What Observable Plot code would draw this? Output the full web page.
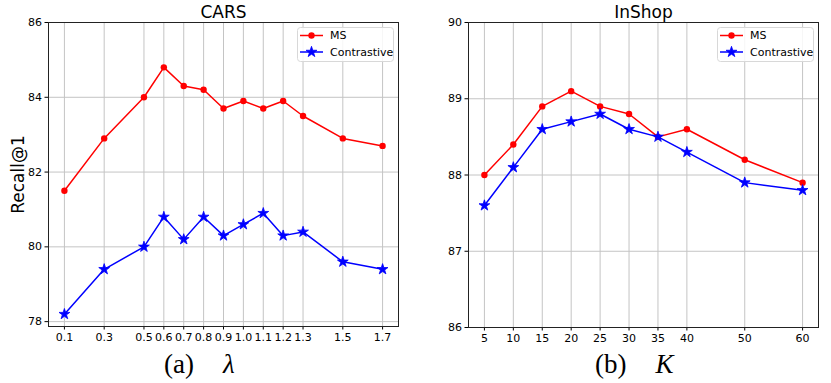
<!DOCTYPE html>
<html>
<head>
<meta charset="utf-8">
<script src="https://cdn.jsdelivr.net/npm/d3@7"></script>
<script src="https://cdn.jsdelivr.net/npm/@observablehq/plot@0.6"></script>
<style>
  html, body { margin: 0; padding: 0; background: #fff; }
  #fig { position: relative; width: 831px; height: 383px; overflow: hidden; font-family: "DejaVu Sans", sans-serif; }
  .panel { position: absolute; top: 0; }
  .legend { position: absolute; top: 27px; width: 97px; height: 35px; }
  .cap { position: absolute; top: 351px; font-family: "Liberation Serif", "Times New Roman", serif; font-size: 27px; line-height: 1; white-space: nowrap; color: #000; }
  .cap i { margin-left: 29px; }
</style>
</head>
<body>
<div id="fig"></div>
<script>
// ---- data ----
const lambdas = [0.1, 0.3, 0.5, 0.6, 0.7, 0.8, 0.9, 1.0, 1.1, 1.2, 1.3, 1.5, 1.7];
const carsMS = [81.5, 82.9, 84.0, 84.8, 84.3, 84.2, 83.7, 83.9, 83.7, 83.9, 83.5, 82.9, 82.7];
const carsContrastive = [78.2, 79.4, 80.0, 80.8, 80.2, 80.8, 80.3, 80.6, 80.9, 80.3, 80.4, 79.6, 79.4];
const carsYTicks = [78, 80, 82, 84, 86];

const ks = [5, 10, 15, 20, 25, 30, 35, 40, 50, 60];
const shopMS = [88.0, 88.4, 88.9, 89.1, 88.9, 88.8, 88.5, 88.6, 88.2, 87.9];
const shopContrastive = [87.6, 88.1, 88.6, 88.7, 88.8, 88.6, 88.5, 88.3, 87.9, 87.8];
const shopYTicks = [86, 87, 88, 89, 90];

const seriesNames = ["MS", "Contrastive"];
const seriesColors = ["#ff0000", "#0000ff"];

const FONT = "DejaVu Sans";

function makeLegend(left) {
  const svg = d3.create("svg").attr("class", "legend").attr("width", 97).attr("height", 35)
    .style("left", left + "px");
  svg.append("rect").attr("x", 0.5).attr("y", 0.5).attr("width", 96).attr("height", 34)
    .attr("rx", 3).attr("fill", "#fff").attr("fill-opacity", 0.85)
    .attr("stroke", "#d8d8d8").attr("stroke-width", 1);
  seriesNames.forEach((name, i) => {
    const cy = 8.5 + i * 16.5;
    svg.append("line").attr("x1", 3).attr("x2", 26).attr("y1", cy).attr("y2", cy)
      .attr("stroke", seriesColors[i]).attr("stroke-width", 1.5);
    if (i === 0) {
      svg.append("circle").attr("cx", 14.5).attr("cy", cy).attr("r", 3.2).attr("fill", seriesColors[i]);
    } else {
      svg.append("path").attr("transform", `translate(14.5,${cy})`)
        .attr("d", d3.symbol(d3.symbolStar, Math.PI * 3.4 * 3.4)()).attr("fill", seriesColors[i])
        .attr("stroke", seriesColors[i]).attr("stroke-width", 0.8);
    }
    svg.append("text").attr("x", 33).attr("y", cy).attr("dy", "0.35em")
      .attr("font-family", FONT).attr("font-size", 11).attr("fill", "#000").text(name);
  });
  return svg.node();
}

function panel({xs, ms, con, xTicks, xFmt, xDomain, yDomain, yTicks, title, width, marginLeft, marginRight, marginBottom, ylabel}) {
  const msRows = xs.map((x, i) => ({x, y: ms[i]}));
  const conRows = xs.map((x, i) => ({x, y: con[i]}));
  const marks = [
    Plot.gridX(xTicks, {stroke: "#c4c4c4", strokeOpacity: 1, strokeWidth: 1}),
    Plot.gridY(yTicks, {stroke: "#c4c4c4", strokeOpacity: 1, strokeWidth: 1}),
    Plot.axisX({ticks: xTicks, tickFormat: xFmt, tickSize: 3.5, tickPadding: 3, fontSize: 11, label: null}),
    Plot.axisY({ticks: yTicks, tickFormat: d3.format("d"), tickSize: 3.5, tickPadding: 3, fontSize: 11, label: null}),
    Plot.lineY(msRows, {x: "x", y: "y", stroke: seriesColors[0], strokeWidth: 1.5}),
    Plot.dot(msRows, {x: "x", y: "y", r: 3.2, fill: seriesColors[0]}),
    Plot.lineY(conRows, {x: "x", y: "y", stroke: seriesColors[1], strokeWidth: 1.5}),
    Plot.dot(conRows, {x: "x", y: "y", symbol: "star", r: 3.4, fill: seriesColors[1], stroke: seriesColors[1], strokeWidth: 0.8}),
    Plot.frame({stroke: "#222", strokeWidth: 1}),
    Plot.text([title], {frameAnchor: "top", lineAnchor: "middle", dy: -10, fontSize: 17, fontFamily: FONT, fill: "#000", text: d => d})
  ];
  if (ylabel) {
    marks.push(Plot.text([ylabel], {frameAnchor: "left", textAnchor: "middle", lineAnchor: "middle", dx: -30, rotate: -90, fontSize: 17, fontFamily: FONT, fill: "#000", text: d => d}));
  }
  return Plot.plot({
    width, height: 345,
    marginLeft, marginRight, marginTop: 22, marginBottom,
    style: {fontFamily: FONT, fontSize: "11px", color: "#000", background: "transparent", overflow: "visible"},
    x: {type: "linear", domain: xDomain},
    y: {domain: yDomain},
    marks
  });
}

const fig = document.getElementById("fig");

const left = panel({
  xs: lambdas, ms: carsMS, con: carsContrastive,
  xTicks: lambdas, xFmt: d3.format(".1f"), xDomain: [0.02, 1.78],
  yDomain: [77.87, 86], yTicks: carsYTicks, title: "CARS",
  width: 410, marginLeft: 48, marginRight: 12, marginBottom: 19, ylabel: "Recall@1"
});
const right = panel({
  xs: ks, ms: shopMS, con: shopContrastive,
  xTicks: ks, xFmt: d3.format("d"), xDomain: [2.25, 62.75],
  yDomain: [86, 90], yTicks: shopYTicks, title: "InShop",
  width: 421, marginLeft: 58, marginRight: 13, marginBottom: 18, ylabel: null
});

const lw = document.createElement("div"); lw.className = "panel"; lw.style.left = "0px"; lw.appendChild(left);
const rw = document.createElement("div"); rw.className = "panel"; rw.style.left = "410px"; rw.appendChild(right);
fig.appendChild(lw); fig.appendChild(rw);
fig.appendChild(makeLegend(297));
fig.appendChild(makeLegend(717));

const capA = document.createElement("div"); capA.className = "cap"; capA.style.left = "164px";
capA.innerHTML = "(a)<i>λ</i>";
const capB = document.createElement("div"); capB.className = "cap"; capB.style.left = "595px";
capB.innerHTML = "(b)<i>K</i>";
fig.appendChild(capA); fig.appendChild(capB);
</script>
</body>
</html>
